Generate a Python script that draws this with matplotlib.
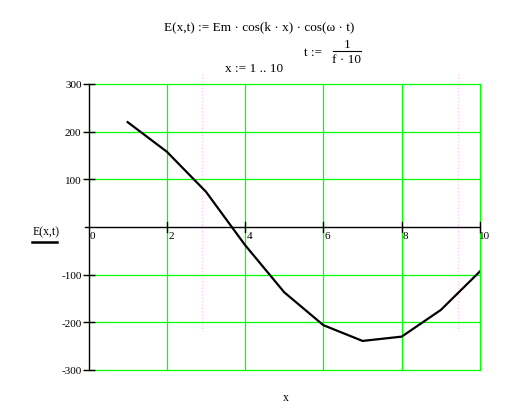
import matplotlib
matplotlib.use("Agg")
import matplotlib.pyplot as plt
from matplotlib.lines import Line2D

x_vals = [1, 2, 3, 4, 5, 6, 7, 8, 9, 10]
E_vals = [220, 158, 74, -38, -137, -206, -239, -230, -174, -93]
x_ticks = [0, 2, 4, 6, 8, 10]
y_ticks = [-300, -200, -100, 100, 200, 300]
y_tick_labels = ["-300", "-200", "-100", "100", "200", "300"]

W, H = 529, 414
fig = plt.figure(figsize=(W / 100, H / 100), dpi=100)
fig.patch.set_facecolor("white")

serif = ["Liberation Serif", "DejaVu Serif"]

# page-break artifacts (faint pink dotted lines)
for px in (202, 458):
    fig.add_artist(Line2D([px / W, px / W], [1 - 75 / H, 1 - 332 / H],
                          color="#ffb8ff", lw=0.8, ls=(0, (1, 2)), zorder=0))

ax = fig.add_axes([88.5 / W, 1 - 371 / H, (480 - 88.5) / W, (371 - 85) / H])
ax.set_xlim(0, 10)
ax.set_ylim(-300, 300)
ax.patch.set_alpha(0)

for s in ("top", "right", "bottom"):
    ax.spines[s].set_visible(False)
ax.spines["left"].set_linewidth(1.0)
ax.spines["left"].set_color("black")

green = "#00ff00"
for xv in x_ticks[1:]:
    ax.plot([xv, xv], [-300, 300], color=green, lw=0.9, zorder=1, clip_on=False)
for yv in y_ticks:
    ax.plot([0, 10], [yv, yv], color=green, lw=0.9, zorder=1, clip_on=False)

# x axis line at y=0
ax.plot([-0.1, 10], [0, 0], color="black", lw=1.0, zorder=2, clip_on=False)
# ticks on x axis
for xv in x_ticks[1:]:
    ax.plot([xv, xv], [-10, 10], color="black", lw=1.0, zorder=2, clip_on=False)

ax.set_xticks([])
ax.set_yticks(y_ticks)
ax.set_yticklabels(y_tick_labels, fontfamily=serif, fontsize=8)
ax.tick_params(axis="y", direction="inout", length=8, width=1.0, pad=1)

# x tick labels below axis line
for xv in x_ticks:
    ax.annotate(str(xv), xy=(xv, 0), xytext=(3, -3), textcoords="offset points",
                ha="center", va="top", fontsize=8, fontfamily=serif)

ax.plot(x_vals, E_vals, color="black", lw=1.6, zorder=3, solid_joinstyle="round")

# Formula texts
fig.text(259 / W, 1 - 27 / H, "E(x,t) := Em \u00b7 cos(k \u00b7 x) \u00b7 cos(\u03c9 \u00b7 t)",
         ha="center", va="center", fontsize=9.5, fontfamily=serif)
fig.text(322 / W, 1 - 53 / H, "t :=", ha="right", va="center", fontsize=9.5, fontfamily=serif)
fig.text(347 / W, 1 - 45 / H, "1", ha="center", va="center", fontsize=9.5, fontfamily=serif)
fig.add_artist(Line2D([333 / W, 361 / W], [1 - 52 / H, 1 - 52 / H], color="black", lw=0.8))
fig.text(347 / W, 1 - 60 / H, "f \u00b7 10", ha="center", va="center", fontsize=9.5, fontfamily=serif)
fig.text(254 / W, 1 - 69 / H, "x := 1 .. 10", ha="center", va="center", fontsize=9.5, fontfamily=serif)

# axis labels
fig.text(46 / W, 1 - 232 / H, "E(x,t)", ha="center", va="center", fontsize=8.5, fontfamily=serif)
fig.add_artist(Line2D([32 / W, 57 / W], [1 - 243 / H, 1 - 243 / H], color="black", lw=1.8))
fig.text(286 / W, 1 - 398 / H, "x", ha="center", va="center", fontsize=8.5, fontfamily=serif)

fig.savefig("out.png", dpi=100, facecolor="white")
